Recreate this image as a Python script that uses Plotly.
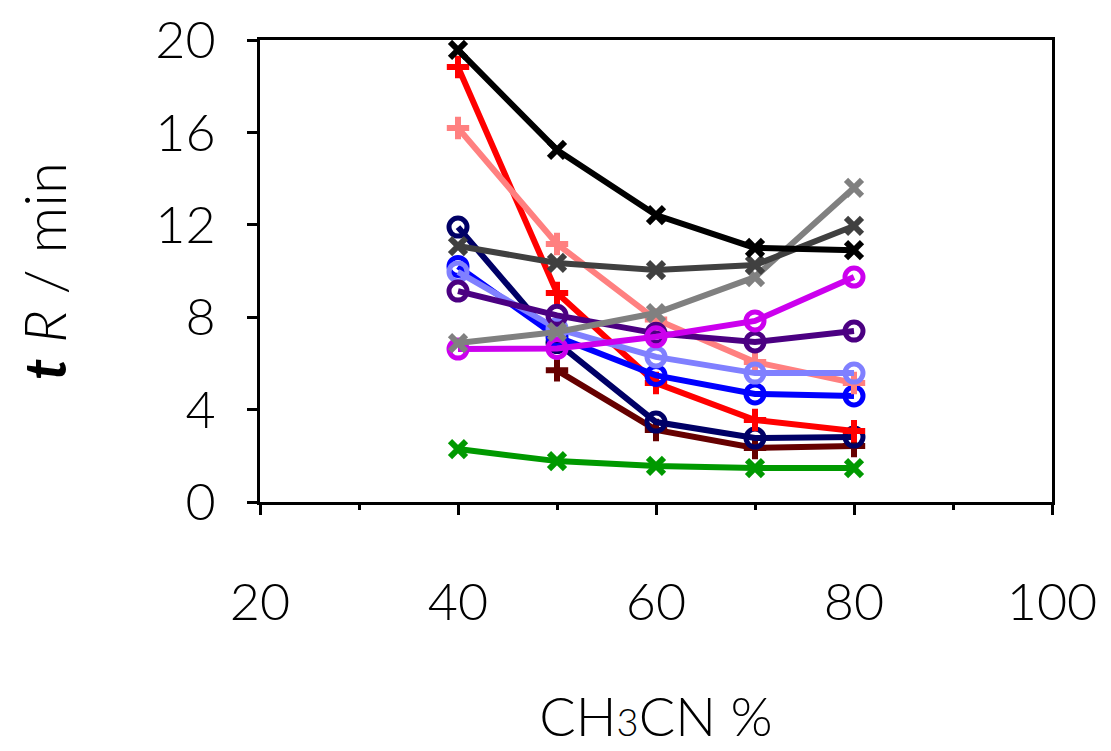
import plotly.graph_objects as go

x_vals = [40, 50, 60, 70, 80]

black_x = [19.57, 15.24, 12.42, 11.0, 10.9]
red_plus = [18.83, 9.05, 5.15, 3.55, 3.07]
pink_plus = [16.19, 11.17, 7.9, 6.06, 5.15]
darkgray_x = [11.08, 10.35, 10.04, 10.26, 11.95]
gray_x = [6.88, 7.36, 8.18, 9.74, 13.6]
navy_o = [11.9, 6.9, 3.46, 2.77, 2.81]
blue_o = [10.2, 7.15, 5.48, 4.68, 4.59]
lightblue_o = [9.96, 7.5, 6.28, 5.58, 5.58]
purple_o = [9.13, 8.08, 7.3, 6.93, 7.4]
magenta_o = [6.62, 6.65, 7.15, 7.84, 9.74]
darkred_plus = [None, 5.7, 3.12, 2.34, 2.42]
green_x = [2.29, 1.77, 1.56, 1.47, 1.47]

series = [
    ("green", green_x, "#009900", "x-thin"),
    ("darkred", darkred_plus, "#660000", "cross-thin"),
    ("navy", navy_o, "#000066", "circle-open"),
    ("red", red_plus, "#FF0000", "cross-thin"),
    ("blue", blue_o, "#0000FF", "circle-open"),
    ("pink", pink_plus, "#FF8080", "cross-thin"),
    ("lightblue", lightblue_o, "#8080FF", "circle-open"),
    ("purple", purple_o, "#4B0082", "circle-open"),
    ("magenta", magenta_o, "#CC00EE", "circle-open"),
    ("gray", gray_x, "#808080", "x-thin"),
    ("darkgray", darkgray_x, "#404040", "x-thin"),
    ("black", black_x, "#000000", "x-thin"),
]

fig = go.Figure()
for name, ys, col, sym in series:
    size = 18 if sym == "circle-open" else 16
    fig.add_trace(go.Scatter(
        x=x_vals, y=ys, name=name, mode="lines+markers",
        line=dict(color=col, width=6),
        marker=dict(symbol=sym, size=size, color=col,
                    line=dict(color=col, width=6 if sym != "circle-open" else 5)),
        connectgaps=False,
    ))

font_family = "Lato"
fig.update_layout(
    width=1111, height=751,
    margin=dict(l=252, r=67, t=32, b=257),
    paper_bgcolor="white", plot_bgcolor="white",
    showlegend=False,
    font=dict(family=font_family, color="black", size=52, weight=300),
)
fig.update_xaxes(
    range=[20, 100], tickvals=[20, 40, 60, 80, 100],
    showgrid=False, zeroline=False, showline=True, mirror=True,
    linecolor="black", linewidth=3, automargin=False,
    ticks="outside", ticklen=10, tickwidth=3, tickcolor="black",
    minor=dict(dtick=10, ticks="outside", ticklen=5, tickwidth=3, tickcolor="black"),
    tickfont=dict(size=52, family=font_family, weight=300),
    ticklabelstandoff=43, ticklabeloverflow="allow",
    title=dict(text="CH<span style='font-size:38px'>3</span>CN %",
               font=dict(size=54, family=font_family, weight=300), standoff=68),
)
fig.update_yaxes(
    range=[0, 20], tickvals=[0, 4, 8, 12, 16, 20],
    showgrid=False, zeroline=False, showline=True, mirror=True,
    linecolor="black", linewidth=3, automargin=False,
    ticks="outside", ticklen=10, tickwidth=3, tickcolor="black",
    tickfont=dict(size=52, family=font_family, weight=300),
    ticklabelstandoff=21, ticklabeloverflow="allow",
    title=dict(text="<b><i>t</i></b> <i>R</i> / min", font=dict(size=58, family=font_family, weight=300), standoff=70),
)

fig.write_html("out.html")
